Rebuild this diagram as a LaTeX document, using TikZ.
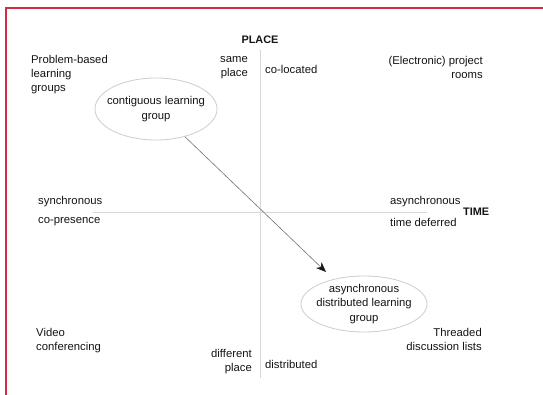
\documentclass[tikz,border=0pt]{standalone}
\usepackage{fontspec}
\setmainfont{Liberation Sans}
\usetikzlibrary{shapes.geometric,arrows.meta}
\definecolor{frame}{RGB}{208,44,70}
\definecolor{txt}{RGB}{20,20,20}
\definecolor{axis}{RGB}{215,215,215}
\definecolor{ell}{RGB}{205,205,205}
\begin{document}
\begin{tikzpicture}[x=1pt,y=-1pt,
  lbl/.style={inner sep=0pt,text=txt,font=\fontsize{11.3}{14.2}\selectfont,align=left},
  lblr/.style={lbl,align=right},
  hdr/.style={inner sep=0pt,text=txt,font=\fontsize{10.9}{13}\selectfont\bfseries},
  grp/.style={ellipse,draw=ell,line width=0.8pt,inner xsep=-6pt,inner ysep=-1pt,text=txt,font=\fontsize{11.3}{14.2}\selectfont,align=center},
  ax/.style={draw=axis,line width=0.8pt}]
\useasboundingbox (0,0) rectangle (543,395);
\fill[white] (0,0) rectangle (543,395);
\draw[frame,line width=2pt] (6,395) -- (6,8.5) -- (543,8.5);
% axes
\coordinate (vtop) at (260,50);
\coordinate (vbot) at (260,378);
\coordinate (hl) at (93,212);
\coordinate (hr) at (427,212);
\draw[ax] (vtop) -- (vbot);
\draw[ax] (hl) -- (hr);
% headers
\node[hdr] (place) at (260,40) {PLACE};
\node[hdr,anchor=west] (time) at (463,212) {TIME};
% labels
\node[lbl,anchor=north west] (pbl) at (31,55) {Problem-based\\learning\\groups};
\node[lblr,anchor=north east] (same) at (248,56) {same\\place};
\node[lbl,anchor=west] (coloc) at (265,69) {co-located};
\node[lblr,anchor=north east] (epr) at (483,56) {(Electronic) project\\rooms};
\node[lbl,anchor=west] (sync) at (38,202) {synchronous};
\node[lbl,anchor=west] (copres) at (38,222) {co-presence};
\node[lbl,anchor=west] (async) at (390,202) {asynchronous};
\node[lbl,anchor=west] (tdef) at (390,222) {time deferred};
\node[lbl,anchor=north west] (video) at (36,328) {Video\\conferencing};
\node[lblr,anchor=north east] (diff) at (252,349) {different\\place};
\node[lbl,anchor=west] (distr) at (265,364) {distributed};
\node[lblr,anchor=north east] (thr) at (482,328) {Threaded\\discussion lists};
% groups
\node[grp,minimum width=122pt,minimum height=62pt] (contig) at (156,109) {contiguous learning\\group};
\node[grp,minimum width=126pt,minimum height=56pt] (adlg) at (364,304) {asynchronous\\distributed learning\\group};
\coordinate (tip) at (326,272);
\draw[draw=black!55,line width=0.6pt,-{Stealth[length=10pt,width=8pt,inset=3pt,color=black!90]}] (contig) -- (tip);
\end{tikzpicture}
\end{document}
